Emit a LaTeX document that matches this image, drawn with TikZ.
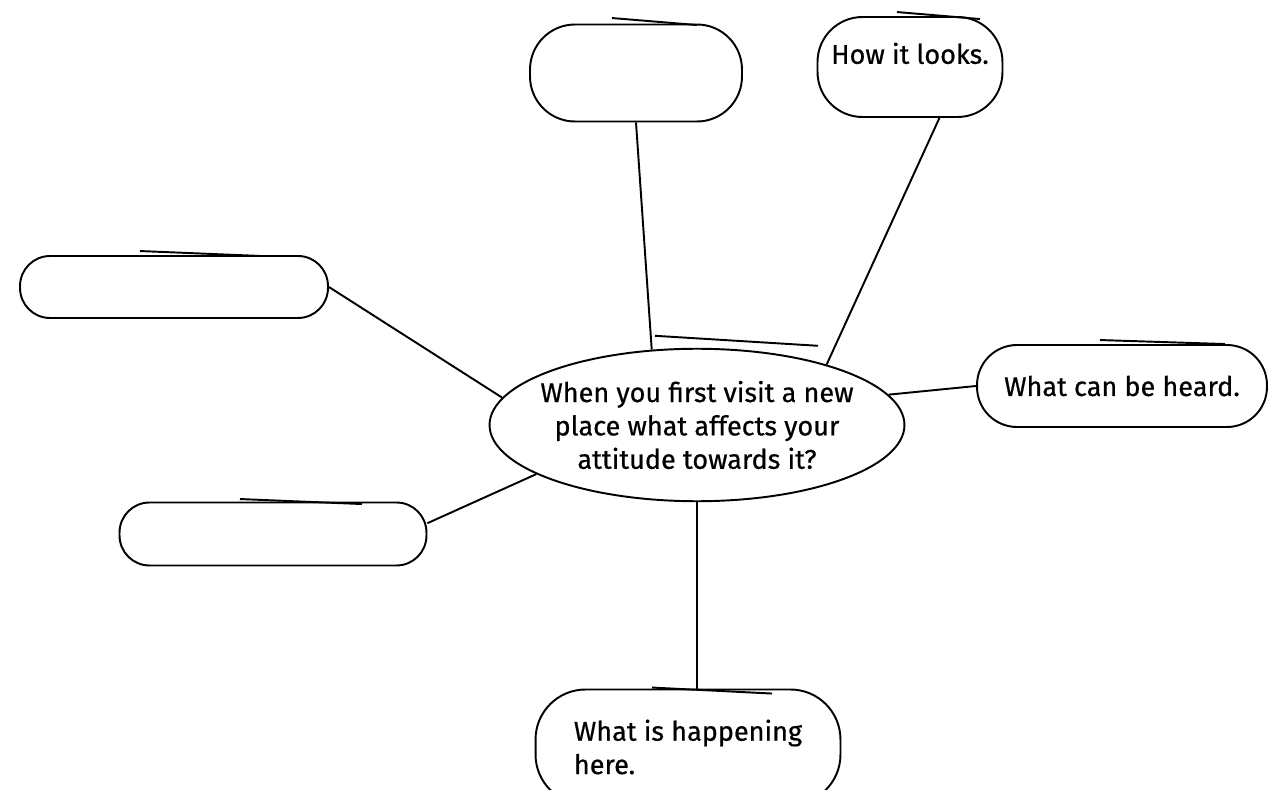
\documentclass[tikz,border=0pt]{standalone}
\usepackage{fontspec}
\setmainfont{Fira Sans}[FakeBold=0.6]
\usepackage {tikz}
\usetikzlibrary {positioning}
\usetikzlibrary{shapes.geometric}

\tikzset{
  blob/.style={draw, line width=1.1pt, align=center, font=\fontsize{15.4}{19}\selectfont},
  tick/.style={line width=1.1pt}
}

\begin{document}
\begin{tikzpicture}[x=0.02cm, y=-0.02cm]
\useasboundingbox (0,0) rectangle (1282,790);
\clip (0,0) rectangle (1282,790);

\begin{scope}[every node/.style={blob}]
   \node[ellipse, inner xsep=-0.9cm, inner ysep=-0.3cm, minimum width=8.3cm, minimum height=3.05cm] (q) at (697,425)
      {When you first visit a new\\ place what affects your\\ attitude towards it?};

   \node[rounded corners=0.9cm, minimum width=4.24cm, minimum height=1.94cm] (e1) at (636,73) {};
   \node[rounded corners=0.9cm, minimum width=3.7cm, minimum height=2cm, text depth=0.55cm] (looks) at (910,67) {How it looks.};
   \node[rounded corners=0.6cm, minimum width=6.16cm, minimum height=1.24cm] (e2) at (174,287) {};
   \node[rounded corners=0.8cm, minimum width=5.8cm, minimum height=1.64cm] (heard) at (1122,386) {What can be heard.};
   \node[rounded corners=0.6cm, minimum width=6.14cm, minimum height=1.26cm] (e3) at (273,534) {};
   \node[rounded corners=1cm, minimum width=6.1cm, minimum height=2.3cm, align=left] (happen) at (688,747) {What is happening\\ here.};
\end{scope}

% strokes over the top of each bubble
\draw[tick] ([shift={(-42,-12)}]q.north) -- ([shift={(121,-2)}]q.north);
\draw[tick] ([shift={(-24,-5.5)}]e1.north) -- ([shift={(61,1.5)}]e1.north);
\draw[tick] ([shift={(-13,-4)}]looks.north) -- ([shift={(70,3)}]looks.north);
\draw[tick] ([shift={(-34,-4)}]e2.north) -- ([shift={(88,1)}]e2.north);
\draw[tick] ([shift={(-22,-4)}]heard.north) -- ([shift={(103,0)}]heard.north);
\draw[tick] ([shift={(-33,-2.5)}]e3.north) -- ([shift={(89,2.5)}]e3.north);
\draw[tick] ([shift={(-36,-1)}]happen.north) -- ([shift={(84,5)}]happen.north);

\begin{scope}[every edge/.style={draw, line width=1.1pt}]
   \path (e1.south) edge (q.121);
   \path (looks.-60) edge (q.25);
   \path (e2.east) edge (q.172);
   \path (heard.west) edge (q.9);
   \path (e3.4) edge (q.197);
   \path (q.south) edge (q.south |- happen.north);
\end{scope}
\end{tikzpicture}
\end{document}
